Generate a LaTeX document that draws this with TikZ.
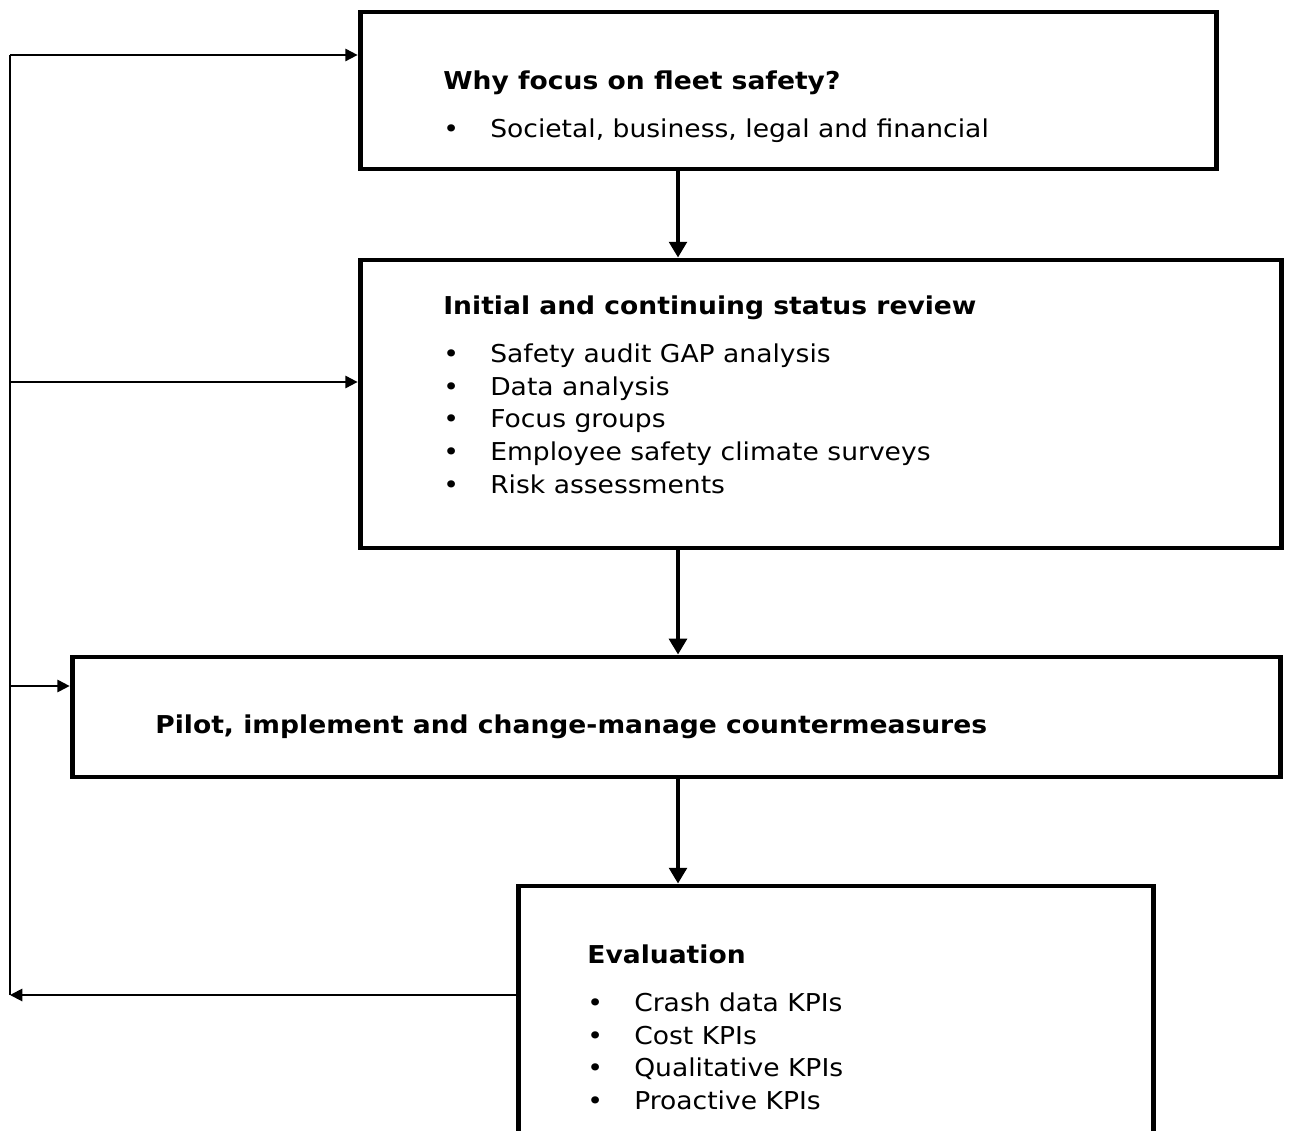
\documentclass[tikz,border=0pt]{standalone}
\usepackage{fontspec}
\setmainfont{DejaVu Sans}[FakeStretch=1.08]
\usetikzlibrary{arrows.meta}
\newcommand{\bul}{\makebox[26.7pt][l]{\textbullet}}
\tikzset{font=\fontsize{14}{18.5}\selectfont}
\tikzstyle{stage} = [rectangle, draw=black, line width=2.8pt, fill=white, inner sep=0pt]
\tikzstyle{title} = [inner sep=0pt, anchor=base west, font=\fontsize{14}{18.5}\selectfont\bfseries]
% base of a multi-line node is its last line
\tikzstyle{items} = [inner sep=0pt, anchor=base west, align=left]
\tikzstyle{arrow} = [line width=1.1pt, -{Triangle[length=7pt, width=7pt]}]
\tikzstyle{flow} = [line width=2.8pt, -{Triangle[length=9pt, width=10pt]}]
\tikzstyle{line} = [line width=1.1pt]

\begin{document}
\begin{tikzpicture}[x=0.02cm, y=-0.02cm]
    \useasboundingbox (0,0) rectangle (1290,1131);
    \node (why) [stage, minimum width=17.14cm, minimum height=3.14cm] at (788.5,90.5) {};
    \node (review) [stage, minimum width=18.44cm, minimum height=5.76cm] at (821,404) {};
    \node (pilot) [stage, minimum width=24.18cm, minimum height=2.4cm] at (676.5,717) {};
    \node (evaluation) [stage, minimum width=12.72cm, minimum height=5.6cm] at (836,1026) {};

    \node (whyTitle) [title] at (443,90) {Why focus on fleet safety?};
    \node (whyItems) [items] at (443,138) {\bul Societal, business, legal and financial};
    \node (reviewTitle) [title] at (443,315) {Initial and continuing status review};
    \node (reviewItems) [items] at (443,493) {\bul Safety audit GAP analysis\\
      \bul Data analysis\\ \bul Focus groups\\ \bul Employee safety climate surveys\\
      \bul Risk assessments};
    \node (pilotTitle) [title] at (155,733) {Pilot, implement and change-manage countermeasures};
    \node (evalTitle) [title] at (587,963) {Evaluation};
    \node (evalItems) [items] at (587,1109) {\bul Crash data KPIs\\ \bul Cost KPIs\\
      \bul Qualitative KPIs\\ \bul Proactive KPIs};

    \coordinate (spine) at (678,0);
    \coordinate (loopTop) at (10,55);
    \coordinate (toReview) at (10,382);
    \coordinate (toPilot) at (10,686);
    \coordinate (back) at (10,995);

    \draw [flow] (why.south -| spine) -- (review.north -| spine);
    \draw [flow] (review.south -| spine) -- (pilot.north -| spine);
    \draw [flow] (pilot.south -| spine) -- (evaluation.north -| spine);

    \draw [arrow] (evaluation.west |- back) -- (back);
    \draw [line] (back) -- (loopTop);
    \draw [arrow] (loopTop) -- (why.west |- loopTop);
    \draw [arrow] (toReview) -- (review.west |- toReview);
    \draw [arrow] (toPilot) -- (pilot.west |- toPilot);
\end{tikzpicture}
\end{document}
